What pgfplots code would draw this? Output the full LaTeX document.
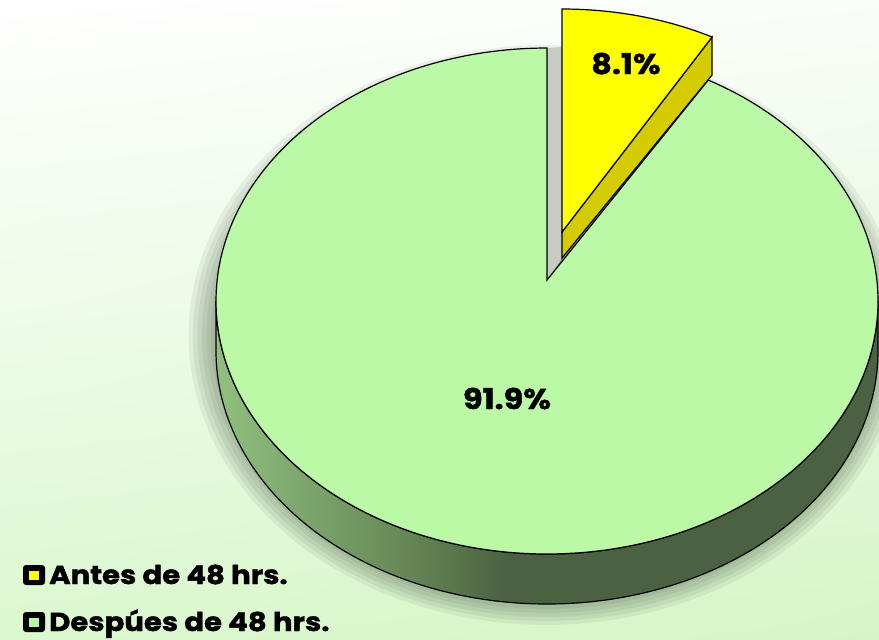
\documentclass[border=0pt]{standalone}
\usepackage{fontspec}
\setmainfont{Poppins}[BoldFeatures={FakeStretch=1.12, FakeBold=1.5}]
\usepackage{pgfplots}
\pgfplotsset{compat=1.18}
\usetikzlibrary{shadings}
\definecolor{topG}{HTML}{BBF9A6}
\definecolor{yel}{HTML}{FFFF00}
\definecolor{yelS}{HTML}{D4CC00}
\definecolor{wallG}{HTML}{C6CCC2}
\definecolor{sideL}{HTML}{90C07F}
\definecolor{sideM}{HTML}{6A8D5A}
\definecolor{sideD}{HTML}{4A6241}
\definecolor{bgUR}{HTML}{FAFDF9}
\definecolor{bgLL}{HTML}{DBF8CF}
\definecolor{bgLR}{HTML}{D5F5C7}
\definecolor{shad}{HTML}{3C4A38}
\pgfdeclarehorizontalshading{sideshade}{100bp}{color(0bp)=(sideL); color(25bp)=(sideL); color(38bp)=(sideM); color(47bp)=(sideD); color(100bp)=(sideD)}

% data (percent)
\def\valA{8.1}  % Antes de 48 hrs.
\def\valB{91.9} % Despues de 48 hrs.
\pgfmathsetmacro{\angA}{90-3.6*\valA}
\pgfmathsetmacro{\angEnd}{360+\angA}
\pgfmathsetmacro{\yRx}{562+308*cos(\angA)}
\pgfmathsetmacro{\yRy}{230-221*sin(\angA)}
\pgfmathsetmacro{\yRyb}{\yRy+38}

\begin{document}
\begin{tikzpicture}
\useasboundingbox (0,0) rectangle (879bp,640bp);
\shade[upper left=white, upper right=bgUR, lower left=bgLL, lower right=bgLR] (0,0) rectangle (879bp,640bp);
\begin{axis}[at={(0,0)}, anchor=south west, scale only axis, width=879bp, height=640bp,
  xmin=0, xmax=879, ymin=0, ymax=640, y dir=reverse, hide axis, clip=false,
  declare function={gx(\t)=547+331*cos(\t); gy(\t)=301-253*sin(\t); yx(\t)=562+308*cos(\t); yy(\t)=230-221*sin(\t);}]
% soft shadow
\pgfplotsinvokeforeach{0,...,7}{
  \addplot[draw=none, fill=shad, fill opacity=0.08, domain=0:360, samples=120] ({546+(326+4.5*#1)*cos(x)}, {335+(262+4*#1)*sin(x)}) -- cycle;
}
% green side
\addplot[draw=black, line width=1.2bp, shade, shading=sideshade, domain=0:360, samples=361]
  ({gx(x<=180 ? 180+x : 540-x)}, {x<=180 ? gy(180+x) : gy(540-x)+50}) -- cycle;
% cut wall
\addplot[fill=wallG, draw=none] coordinates {(547,48) (562,47) (562,258) (547,280)} -- cycle;
% yellow side
\addplot[fill=yelS, draw=black, line width=1.2bp] coordinates {(562,232) (\yRx,\yRy) (\yRx,\yRyb) (562,258)} -- cycle;
% yellow top
\addplot[fill=yel, draw=black, line width=1.2bp, domain=\angA:90, samples=40] ({yx(x)},{yy(x)}) -- (axis cs:562,232) -- cycle;
% green top
\addplot[fill=topG, draw=black, line width=1.2bp, domain=90:\angEnd, samples=300] ({gx(x)},{gy(x)}) -- (axis cs:547,280) -- cycle;
% labels
\node[anchor=base, inner sep=0pt, font=\bfseries\fontsize{28.5bp}{32bp}\selectfont] at (axis cs:626,74) {\valA\%};
\node[anchor=base, inner sep=0pt, font=\bfseries\fontsize{28.5bp}{32bp}\selectfont] at (axis cs:507,409) {\valB\%};
% legend
\fill[black, rounded corners=3bp] (axis cs:23,565) rectangle (axis cs:45,585);
\fill[yel] (axis cs:29,571) rectangle (axis cs:39,580);
\fill[black, rounded corners=3bp] (axis cs:23,612) rectangle (axis cs:45,632);
\fill[topG] (axis cs:29,618) rectangle (axis cs:39,627);
\node[anchor=base west, inner sep=0pt, font=\bfseries\fontsize{26bp}{30bp}\selectfont] at (axis cs:49,584) {Antes de 48 hrs.};
\node[anchor=base west, inner sep=0pt, font=\bfseries\fontsize{26bp}{30bp}\selectfont] at (axis cs:49,631) {Despúes de 48 hrs.};
\end{axis}
\end{tikzpicture}
\end{document}
